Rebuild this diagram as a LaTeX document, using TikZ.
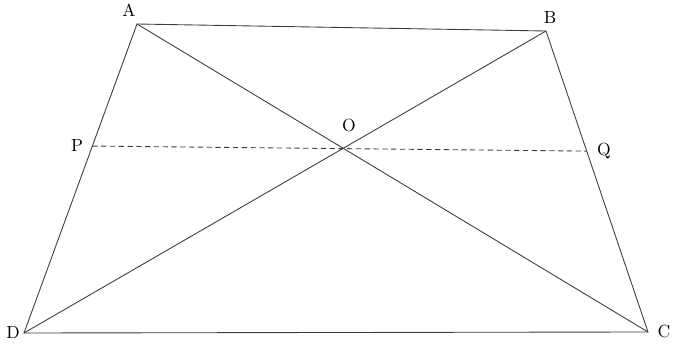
\documentclass[tikz,border=0pt]{standalone}
\usepackage{tikz}
\usetikzlibrary{calc,positioning}
\definecolor{ink}{RGB}{60,60,60}
\tikzset{
  edge/.style={draw=ink,line width=0.5pt},
  midline/.style={draw=ink,line width=0.5pt,dash pattern=on 3pt off 2pt},
  tag/.style={font=\normalsize,text=black,inner sep=1pt},
}
\begin{document}
\begin{tikzpicture}
  \useasboundingbox (0,0) rectangle (13.5,7.04);
  % vertices of the trapezium
  \coordinate (A) at (2.74,6.56);
  \coordinate (B) at (10.92,6.42);
  \coordinate (C) at (12.96,0.40);
  \coordinate (D) at (0.48,0.38);
  \coordinate (O) at (intersection of A--C and B--D);
  \coordinate (P) at ($(A)!0.395!(D)$);
  \coordinate (Q) at ($(B)!0.399!(C)$);
  % sides and diagonals
  \draw[edge] (A) -- (B) -- (C) -- (D) -- cycle;
  \draw[edge] (A) -- (C);
  \draw[edge] (B) -- (D);
  \draw[midline] (P) -- (Q);
  % labels
  \node[tag] (lA) at (2.58,6.84) {A};
  \node[tag] (lB) at (11.0,6.68) {B};
  \node[tag] (lC) at (13.28,0.42) {C};
  \node[tag] (lD) at (0.26,0.38) {D};
  \node[tag] (lP) at (1.54,4.14) {P};
  \node[tag] (lQ) at (12.08,4.02) {Q};
  \node[tag] (lO) at (6.98,4.52) {O};
\end{tikzpicture}
\end{document}
